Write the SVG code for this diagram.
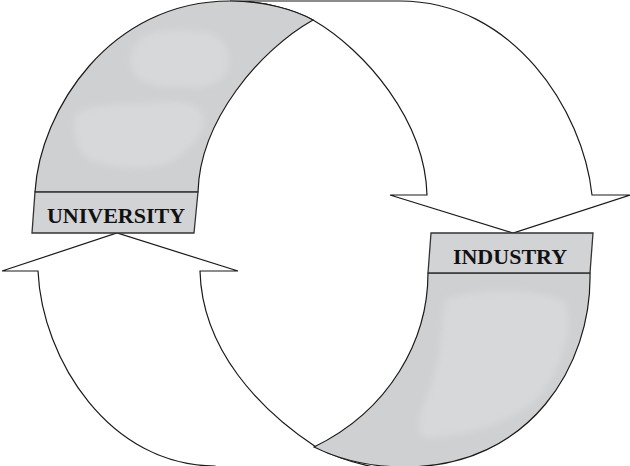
<svg xmlns="http://www.w3.org/2000/svg" width="630" height="466" viewBox="0 0 630 466">
<style>
.arrow{fill:#ffffff;stroke:#1a1a1a;stroke-width:1.2;stroke-linejoin:miter}
.band{fill:#cfd0d2;stroke:#1a1a1a;stroke-width:1.2}
.box{fill:#d2d3d5;stroke:#333333;stroke-width:1.3}
.blob{fill:#d7d8da;filter:url(#soft)}
.label{font-family:"Liberation Serif","Times New Roman",serif;font-weight:bold;font-size:22px;fill:#111111;text-anchor:middle}
</style>
<defs>
<filter id="soft" x="-20%" y="-20%" width="140%" height="140%"><feGaussianBlur stdDeviation="3"/></filter>
<clipPath id="topClip"><path d="M35,192 C40,110 110,1 230,1 C265,1 295,10 313,20 C260,50 200,120 198,192 Z"/></clipPath>
<clipPath id="botClip"><path d="M428,273 C428,340 390,410 314,447 C340,460 370,467 405,467 C530,467 592,365 590,273 Z"/></clipPath>
</defs>
<g id="connectors">
<path id="arrow-university-industry" class="arrow" d="M230,1 L400,1 C513,1 583,110 592,195 L630,195 L513,233 L390,195 L427,195 C425,120 365,50 313,20 C295,10 265,1 230,1 Z"/>
<path id="arrow-industry-university" class="arrow" d="M38,271 L2,271 L117,233 L238,271 L200,271 C202,350 260,410 316,447 C340,460 370,468 405,472 L215,472 L215,466 C110,466 42,360 38,271 Z"/>
</g>
<g id="university">
<path class="band" d="M35,192 C40,110 110,1 230,1 C265,1 295,10 313,20 C260,50 200,120 198,192 Z"/>
<g clip-path="url(#topClip)">
<path class="blob" d="M140,40 C150,28 185,30 205,32 C222,35 232,50 228,68 C224,85 200,90 180,86 C160,90 135,82 132,68 C128,55 132,46 140,40 Z"/>
<path class="blob" d="M75,115 C90,102 130,105 160,102 C190,100 208,108 204,125 C200,140 185,150 175,160 C160,170 120,170 95,162 C80,158 72,140 75,115 Z"/>
</g>
<path class="box" d="M35,192 L198,192 L194,233 L32,233 Z"/>
<text class="label" x="116" y="223">UNIVERSITY</text>
</g>
<g id="industry">
<path class="band" d="M428,273 C428,340 390,410 314,447 C340,460 370,467 405,467 C530,467 592,365 590,273 Z"/>
<g clip-path="url(#botClip)">
<path class="blob" d="M445,300 C475,288 540,288 565,302 C575,330 560,370 540,395 C515,422 470,436 425,438 C410,428 425,405 433,380 C442,350 442,320 445,300 Z"/>
</g>
<path class="box" d="M431,233 L593,233 L590,273 L428,273 Z"/>
<text class="label" x="510" y="264">INDUSTRY</text>
</g>
</svg>
